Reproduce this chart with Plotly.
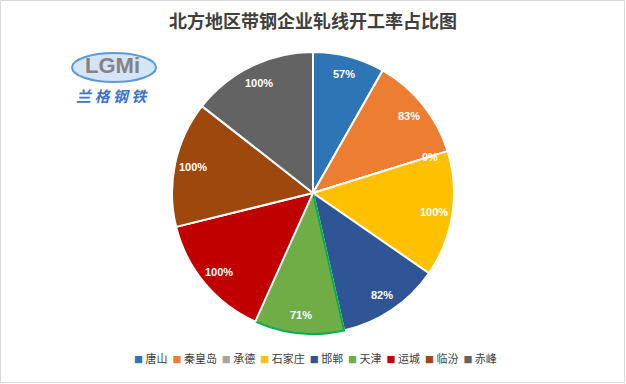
import math
import plotly.graph_objects as go

categories = ["唐山", "秦皇岛", "承德", "石家庄", "邯郸", "天津", "运城", "临汾", "赤峰"]
rates = [57, 83, 0, 100, 82, 71, 100, 100, 100]
colors = ["#2E75B6", "#ED7D31", "#A5A5A5", "#FFC000", "#2F5597", "#70AD47", "#C00000", "#9E480E", "#636363"]
line_colors = ["#FFFFFF"] * 5 + ["#00B050"] + ["#FFFFFF"] * 3
labels_text = [f"{v}%" for v in rates]
title_text = "北方地区带钢企业轧线开工率占比图"

W, H = 626, 384
mt, mb = 52, 50
ph = H - mt - mb
R = ph / 2.0

def py(p):
    return (H - mb - p) / ph

fig = go.Figure()
fig.add_trace(go.Pie(
    labels=categories,
    values=rates,
    text=labels_text,
    textinfo="none",
    marker=dict(colors=colors, line=dict(color=line_colors, width=2)),
    sort=False,
    direction="clockwise",
    rotation=0,
    hoverinfo="label+text",
    showlegend=False,
))

# data labels placed at the slice mid-angle, derived from the values
annotations = []
total = float(sum(rates))
cum = 0.0
for v, t in zip(rates, labels_text):
    mid = (cum + v / 2.0) / total * 2 * math.pi
    cum += v
    r = 0.87 * R
    annotations.append(dict(
        text="<b>" + t + "</b>", xref="paper", yref="paper",
        x=0.5 + r * math.sin(mid) / W, y=0.5 + r * math.cos(mid) / ph,
        showarrow=False, xanchor="center", yanchor="middle",
        font=dict(size=11, color="white", family="Liberation Sans")))

# legend built from categories/colors
parts = []
for c, col in zip(categories, colors):
    parts.append(f'<span style="color:{col};font-size:9px">■</span> {c}')
legend_text = "&nbsp;&nbsp;".join(parts)
annotations.append(dict(text=legend_text, xref="paper", yref="paper", x=315 / W, y=py(358),
                        showarrow=False, xanchor="center", yanchor="middle",
                        font=dict(size=11, color="#404040", family="Noto Sans CJK SC")))

annotations += [
    dict(text="<b>LGMi</b>", xref="paper", yref="paper", x=112 / W, y=py(66), showarrow=False,
         font=dict(size=22, color="#8A7F82", family="Liberation Sans"), xanchor="center", yanchor="middle"),
    dict(text="<b><i>兰 格 钢 铁</i></b>", xref="paper", yref="paper", x=112 / W, y=py(95), showarrow=False,
         font=dict(size=15, color="#3F73C8", family="Noto Sans CJK SC"), xanchor="center", yanchor="middle"),
]

shapes = [
    dict(type="rect", xref="paper", yref="paper", x0=0.5 / W, x1=(W - 1.5) / W, y0=py(H - 1.5), y1=py(0.5),
         line=dict(color="#D9D9D9", width=1), fillcolor="rgba(0,0,0,0)", layer="below"),
    dict(type="circle", xref="paper", yref="paper", x0=72 / W, x1=156 / W, y0=py(82), y1=py(53),
         line=dict(color="#5B9BD5", width=2), fillcolor="rgba(175,208,240,0.55)", layer="below"),
]

fig.update_layout(
    width=W, height=H,
    margin=dict(l=0, r=0, t=mt, b=mb),
    paper_bgcolor="white",
    plot_bgcolor="white",
    title=dict(text="<b>" + title_text + "</b>", x=0.5, xanchor="center", y=1 - 22 / H, yanchor="middle",
               font=dict(size=18, color="#404040", family="Noto Sans CJK SC")),
    showlegend=False,
    shapes=shapes,
    annotations=annotations,
)

fig.write_html("out.html", config={"displayModeBar": False},
               post_script="document.body.style.margin='0';document.body.style.overflow='hidden';")
